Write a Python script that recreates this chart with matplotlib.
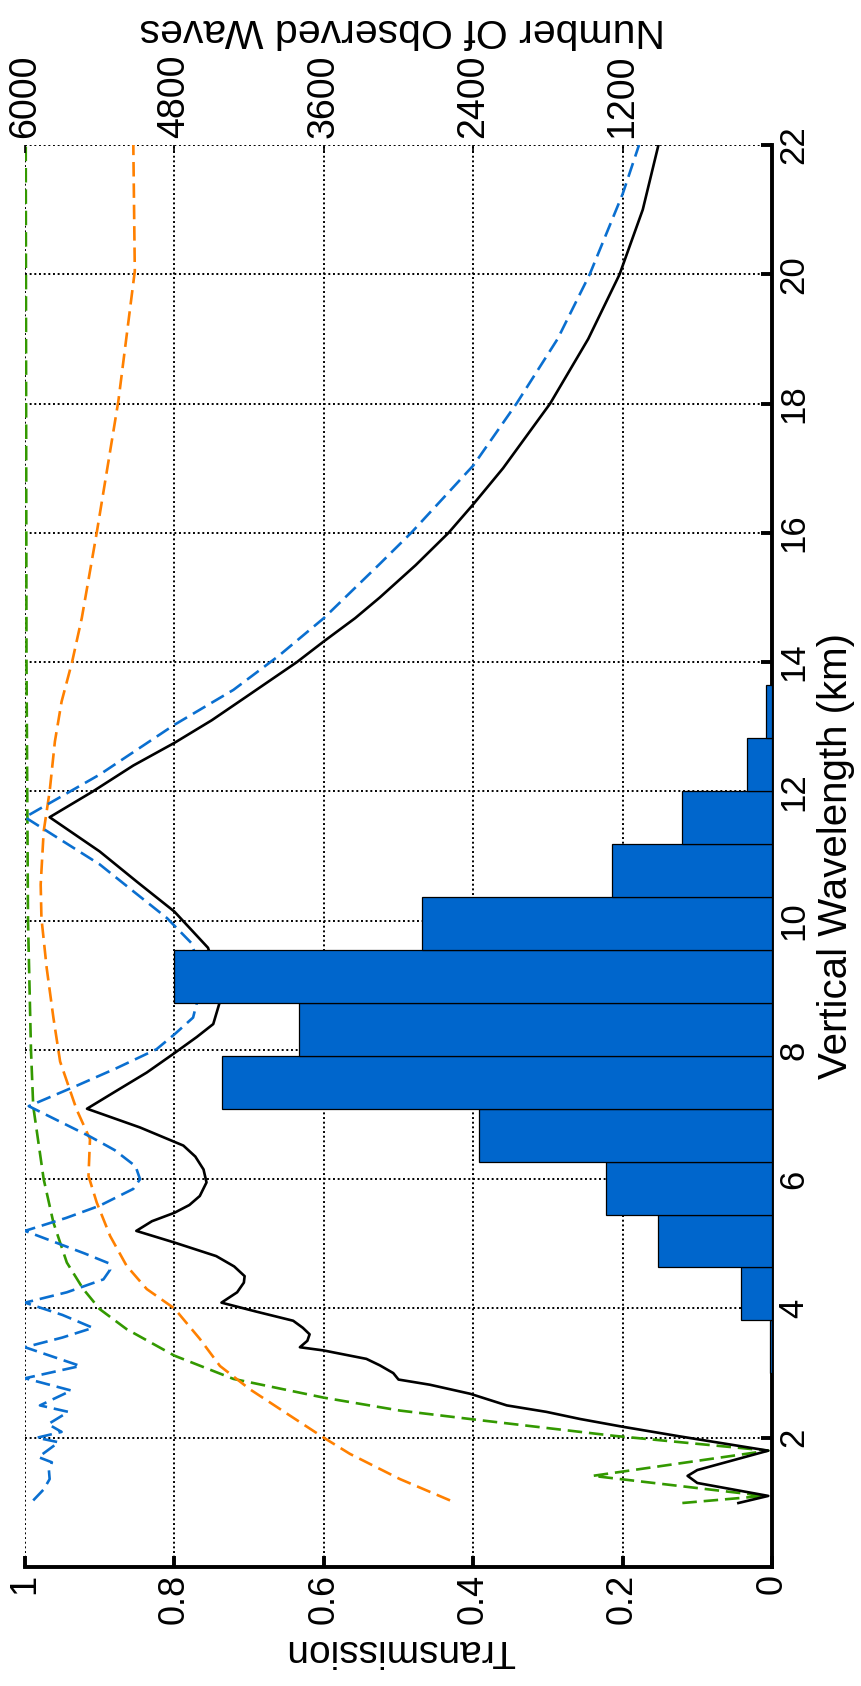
import matplotlib
matplotlib.use('Agg')
import matplotlib.pyplot as plt
import numpy as np

plt.rcParams['font.family'] = ['Liberation Sans', 'DejaVu Sans']

# ---------------- data ----------------
bin_edges = [3.00, 3.82, 4.64, 5.45, 6.27, 7.09, 7.91, 8.73, 9.55, 10.37,
             11.18, 12.00, 12.82, 13.64, 14.46, 15.28]
wave_counts = [20, 252, 913, 1334, 2352, 4415, 3800, 4800, 2812, 1288,
               720, 204, 48, 12, 6]

black_w = [0.99, 1.1, 1.3, 1.41, 1.5, 1.8, 2.02, 2.17, 2.29, 2.4, 2.5, 2.68, 2.82,
           2.9, 3.0, 3.12, 3.22, 3.32, 3.35, 3.4, 3.5, 3.6, 3.7, 3.81, 3.95, 4.09,
           4.25, 4.4, 4.5, 4.65, 4.81, 5.02, 5.2, 5.35, 5.48, 5.6, 5.74, 5.95, 6.15,
           6.35, 6.52, 6.8, 7.09, 7.35, 7.65, 7.95, 8.2, 8.4, 8.75, 9.1, 9.58,
           10.14, 10.6, 11.07, 11.6, 12.0, 12.4, 12.75, 13.1, 13.47, 14.0, 14.32,
           14.68, 15.0, 15.5, 16.0, 16.44, 17.0, 18.0, 19.0, 20.0, 21.0, 22.0]
black_t = [0.045, 0.005, 0.10, 0.113, 0.10, 0.005, 0.123, 0.2, 0.257, 0.302, 0.355,
           0.404, 0.458, 0.5, 0.507, 0.525, 0.543, 0.587, 0.6, 0.632, 0.622, 0.619,
           0.628, 0.641, 0.69, 0.737, 0.716, 0.707, 0.706, 0.72, 0.744, 0.8, 0.851,
           0.83, 0.8, 0.78, 0.766, 0.757, 0.761, 0.772, 0.788, 0.846, 0.917, 0.88,
           0.837, 0.8, 0.77, 0.748, 0.739, 0.742, 0.755, 0.8, 0.85, 0.9, 0.967,
           0.909, 0.855, 0.8, 0.75, 0.703, 0.636, 0.6, 0.558, 0.525, 0.477, 0.433,
           0.4, 0.36, 0.297, 0.246, 0.204, 0.173, 0.152]

blue_w = [1.03, 1.2, 1.36, 1.5, 1.62, 1.7, 1.93, 2.0, 2.09, 2.21, 2.4, 2.5, 2.73,
          2.92, 3.11, 3.4, 3.55, 3.7, 3.9, 4.09, 4.25, 4.45, 4.6, 4.7, 4.85, 5.2,
          5.4, 5.59, 5.85, 6.0, 6.2, 6.45, 6.66, 7.13, 7.45, 7.72, 8.01, 8.24, 8.5,
          9.0, 9.4, 9.65, 10.04, 10.5, 10.87, 11.6, 12.26, 13.03, 13.57, 14.1,
          14.68, 15.52, 16.0, 17.04, 18.0, 19.0, 20.0, 21.24, 22.0]
blue_t = [0.989, 0.975, 0.967, 0.968, 0.964, 0.982, 0.955, 0.984, 0.951, 0.969,
          0.942, 0.98, 0.938, 1.0, 0.926, 1.0, 0.95, 0.909, 0.95, 1.0, 0.944, 0.895,
          0.886, 0.888, 0.92, 1.0, 0.945, 0.9, 0.855, 0.846, 0.852, 0.88, 0.913,
          0.995, 0.93, 0.877, 0.824, 0.8, 0.775, 0.764, 0.77, 0.777, 0.81, 0.86,
          0.9, 1.0, 0.9, 0.8, 0.721, 0.66, 0.6, 0.525, 0.483, 0.4, 0.342, 0.287,
          0.244, 0.2, 0.178]

green_w = [0.99, 1.1, 1.41, 1.8, 2.03, 2.27, 2.42, 2.62, 2.91, 3.27, 3.68, 3.99,
           4.3, 4.71, 5.33, 6.0, 7.13, 8.0, 10.0, 14.0, 22.0]
green_t = [0.12, 0.01, 0.24, 0.005, 0.212, 0.39, 0.498, 0.6, 0.721, 0.8, 0.864, 0.9,
           0.922, 0.944, 0.962, 0.975, 0.989, 0.992, 0.996, 0.998, 0.999]

orange_w = [1.03, 1.36, 1.75, 2.0, 2.34, 2.75, 3.11, 3.53, 4.0, 4.3, 4.66, 5.12,
            5.64, 6.05, 6.62, 7.08, 7.82, 8.5, 9.27, 10.04, 10.56, 11.38, 12.0,
            12.77, 13.39, 14.0, 14.68, 16.0, 18.04, 20.05, 22.0]
orange_t = [0.431, 0.498, 0.565, 0.6, 0.645, 0.699, 0.739, 0.766, 0.8, 0.837, 0.864,
            0.886, 0.904, 0.915, 0.913, 0.931, 0.953, 0.962, 0.971, 0.978, 0.979,
            0.975, 0.967, 0.96, 0.951, 0.937, 0.924, 0.904, 0.875, 0.853, 0.855]

trans_ticks = [0, 0.2, 0.4, 0.6, 0.8, 1]
trans_labels = ['0', '0.2', '0.4', '0.6', '0.8', '1']
wave_ticks = [2, 4, 6, 8, 10, 12, 14, 16, 18, 20, 22]
count_ticks = [1200, 2400, 3600, 4800, 6000]

# ---------------- figure ----------------
W, H = 861, 1686
fig = plt.figure(figsize=(W / 100, H / 100), dpi=100)
L, R, T, B = 25, 772, 145, 1567
ax = fig.add_axes([L / W, 1 - B / H, (R - L) / W, (B - T) / H])

dash = (0, (5.5, 2.6))
ax.plot(green_t, green_w, color='#339900', lw=1.9, ls=dash, zorder=3)
ax.plot(orange_t, orange_w, color='#ff8000', lw=1.9, ls=dash, zorder=3)
ax.plot(blue_t, blue_w, color='#0a6fd0', lw=1.9, ls=dash, zorder=3)
ax.plot(black_t, black_w, color='black', lw=1.9, zorder=4)

ax.set_xlim(1, 0)
ax.set_ylim(0, 22)
ax.set_xticks(trans_ticks)
ax.set_xticklabels(trans_labels)
ax.set_yticks(wave_ticks)
ax.grid(True, color='black', ls=(0, (1, 1.4)), lw=1.4)
ax.set_axisbelow(True)

for s in ['left', 'top']:
    ax.spines[s].set_visible(False)
for s in ['bottom', 'right']:
    ax.spines[s].set_linewidth(2.8)
ax.yaxis.tick_right()
ax.tick_params(axis='x', bottom=True, top=False, direction='in', length=8,
               width=2.8, labelrotation=90, labelsize=26, pad=5)
ax.tick_params(axis='y', left=False, right=True, direction='in', length=8,
               width=2.8, labelrotation=90, labelsize=25, pad=4)
for lab in ax.get_yticklabels():
    lab.set_va('center')
    lab.set_ha('left')

# histogram on the count axis
ax2 = ax.twiny()
edges = np.array(bin_edges)
ax2.barh(edges[:-1], wave_counts, height=np.diff(edges), align='edge',
         color='#0066cc', edgecolor='black', linewidth=0.9, zorder=5)
ax2.set_xlim(6000, 0)
ax2.set_xticks(count_ticks)
ax2.set_xticklabels([str(c) for c in count_ticks])
for s in ax2.spines.values():
    s.set_visible(False)
ax2.tick_params(axis='x', top=True, bottom=False, direction='in', length=6,
                width=1.2, labelrotation=90, labelsize=27, pad=5)

# axis titles (figure rotated by 90 degrees)
fig.text(400 / W, 1 - 1650 / H, 'Transmission', rotation=180, ha='center',
         va='center', fontsize=28)
fig.text(402 / W, 1 - 30 / H, 'Number Of Observed Waves', rotation=180,
         ha='center', va='center', fontsize=29.5)
fig.text(836 / W, 1 - 856 / H, 'Vertical Wavelength (km)', rotation=90,
         ha='center', va='center', fontsize=29)

fig.savefig('out.png', dpi=100)
